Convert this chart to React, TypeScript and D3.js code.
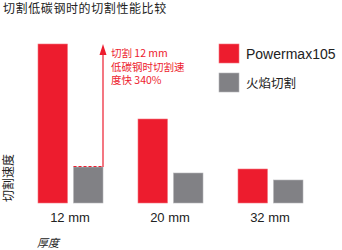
import React from "react";
import * as d3 from "d3";

const categories = ["12 mm", "20 mm", "32 mm"];
const seriesNames = ["Powermax105", "火焰切割"];
const powermax = [159, 84, 34];
const oxyfuel = [36, 30, 23];
const colors = ["#ED1C2E", "#818185"];
const title = "切割低碳钢时的切割性能比较";
const yTitle = "切割速度";
const xTitle = "厚度";
const annotation = ["切割 12 mm", "低碳钢时切割速", "度快 340%"];

const W = 342, H = 250;
const cjk = "'Noto Sans CJK SC', sans-serif";
const latin = "'Liberation Sans', Arial, sans-serif";

export default function App() {
  const x0 = d3.scaleBand<string>().domain(categories).range([20, 320]).padding(0);
  const x1 = d3.scaleBand<string>().domain(seriesNames).range([18, 83]).paddingInner(0.17);
  const y = d3.scaleLinear().domain([0, 159]).range([203, 44]);
  const series = [powermax, oxyfuel];

  const grayX = (x0(categories[0]) || 0) + (x1(seriesNames[1]) || 0);
  const arrowX = grayX + x1.bandwidth();
  const dashY = y(oxyfuel[0]);

  return (
    <div style={{ position: "absolute", left: 0, top: 0 }}>
      <svg width={W} height={H} style={{ display: "block" }}>
        <rect width={W} height={H} fill="#fff" />
        <text x={3} y={13} fontFamily={cjk} fontSize={12} fill="#222" letterSpacing={0.6}>{title}</text>
        {categories.map((c, i) => (
          <g key={c} transform={`translate(${x0(c)},0)`}>
            {series.map((s, j) => (
              <rect key={j} x={x1(seriesNames[j])} y={y(s[i])} width={x1.bandwidth()}
                height={y(0) - y(s[i])} fill={colors[j]} stroke={j === 0 ? "#f4737d" : "#b5b5b8"} strokeWidth={0.6} />
            ))}
            <text x={x0.bandwidth() / 2} y={222} textAnchor="middle" fontFamily={latin} fontSize={13} fill="#222">{c}</text>
          </g>
        ))}
        {/* annotation */}
        <line x1={grayX} x2={arrowX} y1={dashY - 0.5} y2={dashY - 0.5} stroke="#ED1C2E" strokeWidth={1.2} strokeDasharray="3,2" />
        <line x1={arrowX} x2={arrowX} y1={dashY} y2={52} stroke="#ED1C2E" strokeWidth={1.2} />
        <path d={`M${arrowX},${44} L${arrowX - 3.5},${55} L${arrowX + 3.5},${55} Z`} fill="#ED1C2E" />
        {annotation.map((t, i) => (
          <text key={i} x={111} y={57 + i * 13.5} fontFamily={cjk} fontSize={10.5} fill="#ED1C2E">{t}</text>
        ))}
        {/* legend */}
        {seriesNames.map((n, j) => (
          <g key={n} transform={`translate(219,${44 + j * 29})`}>
            <rect width={20} height={19} fill={colors[j]} stroke={j === 0 ? "#f4737d" : "#b5b5b8"} strokeWidth={0.6} />
            <text x={27} y={14.5} fontFamily={j === 0 ? latin : cjk} fontSize={j === 0 ? 14 : 12.5} fill="#222">{n}</text>
          </g>
        ))}
        <text transform="translate(13,178) rotate(-90)" textAnchor="middle" fontFamily={cjk} fontSize={12} fill="#222">{yTitle}</text>
        <text x={37} y={247} fontFamily={cjk} fontSize={11} fill="#222" fontStyle="italic">{xTitle}</text>
      </svg>
    </div>
  );
}
